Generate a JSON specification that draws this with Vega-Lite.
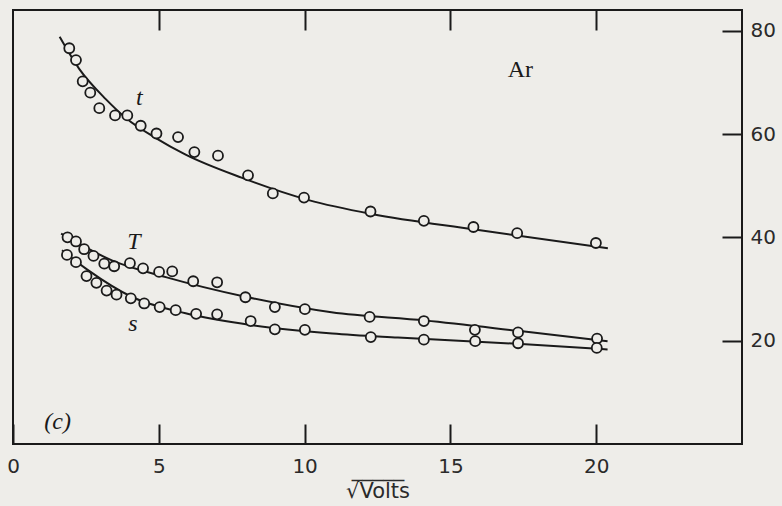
{
  "$schema": "https://vega.github.io/schema/vega-lite/v6.json",
  "width": 729,
  "height": 434,
  "autosize": "none",
  "padding": {"left": 13, "top": 10, "right": 40, "bottom": 62},
  "background": "#eeede9",
  "config": {
    "view": {"stroke": "#1a1a1a", "strokeWidth": 2},
    "axis": {
      "grid": false,
      "domain": false,
      "tickColor": "#1a1a1a",
      "tickWidth": 2,
      "labelFont": "DejaVu Sans",
      "labelFontSize": 20,
      "labelColor": "#2a2a2a",
      "titleFont": "DejaVu Sans",
      "titleFontWeight": "normal",
      "titleFontSize": 21,
      "titleColor": "#2a2a2a"
    }
  },
  "datasets": {
    "points": [
      {"series": "t", "x": 1.93, "y": 76.6},
      {"series": "t", "x": 2.16, "y": 74.3},
      {"series": "t", "x": 2.39, "y": 70.2},
      {"series": "t", "x": 2.65, "y": 68.0},
      {"series": "t", "x": 2.96, "y": 65.0},
      {"series": "t", "x": 3.5, "y": 63.6},
      {"series": "t", "x": 3.92, "y": 63.6},
      {"series": "t", "x": 4.38, "y": 61.6},
      {"series": "t", "x": 4.92, "y": 60.1},
      {"series": "t", "x": 5.66, "y": 59.4},
      {"series": "t", "x": 6.22, "y": 56.5},
      {"series": "t", "x": 7.03, "y": 55.8},
      {"series": "t", "x": 8.06, "y": 52.0},
      {"series": "t", "x": 8.91, "y": 48.5},
      {"series": "t", "x": 9.98, "y": 47.7},
      {"series": "t", "x": 12.26, "y": 45.0},
      {"series": "t", "x": 14.09, "y": 43.2},
      {"series": "t", "x": 15.79, "y": 42.0},
      {"series": "t", "x": 17.29, "y": 40.8},
      {"series": "t", "x": 19.99, "y": 38.9},
      {"series": "T", "x": 1.87, "y": 40.0},
      {"series": "T", "x": 2.16, "y": 39.2},
      {"series": "T", "x": 2.44, "y": 37.7},
      {"series": "T", "x": 2.76, "y": 36.4},
      {"series": "T", "x": 3.13, "y": 34.9},
      {"series": "T", "x": 3.47, "y": 34.4},
      {"series": "T", "x": 4.01, "y": 35.0},
      {"series": "T", "x": 4.46, "y": 34.0},
      {"series": "T", "x": 5.01, "y": 33.3},
      {"series": "T", "x": 5.46, "y": 33.4},
      {"series": "T", "x": 6.18, "y": 31.5},
      {"series": "T", "x": 7.0, "y": 31.3},
      {"series": "T", "x": 7.97, "y": 28.4},
      {"series": "T", "x": 8.98, "y": 26.5},
      {"series": "T", "x": 10.01, "y": 26.1},
      {"series": "T", "x": 12.23, "y": 24.6},
      {"series": "T", "x": 14.09, "y": 23.8},
      {"series": "T", "x": 15.84, "y": 22.1},
      {"series": "T", "x": 17.32, "y": 21.6},
      {"series": "T", "x": 20.03, "y": 20.4},
      {"series": "s", "x": 1.85, "y": 36.6},
      {"series": "s", "x": 2.16, "y": 35.2},
      {"series": "s", "x": 2.52, "y": 32.5},
      {"series": "s", "x": 2.86, "y": 31.2},
      {"series": "s", "x": 3.21, "y": 29.7},
      {"series": "s", "x": 3.55, "y": 28.9},
      {"series": "s", "x": 4.04, "y": 28.2},
      {"series": "s", "x": 4.5, "y": 27.2},
      {"series": "s", "x": 5.03, "y": 26.5},
      {"series": "s", "x": 5.58, "y": 25.9},
      {"series": "s", "x": 6.28, "y": 25.2},
      {"series": "s", "x": 7.0, "y": 25.1},
      {"series": "s", "x": 8.15, "y": 23.8},
      {"series": "s", "x": 8.98, "y": 22.2},
      {"series": "s", "x": 10.01, "y": 22.1},
      {"series": "s", "x": 12.27, "y": 20.7},
      {"series": "s", "x": 14.09, "y": 20.2},
      {"series": "s", "x": 15.85, "y": 19.9},
      {"series": "s", "x": 17.32, "y": 19.5},
      {"series": "s", "x": 20.02, "y": 18.6}
    ],
    "curves": [
      {"series": "t", "x": 1.6, "y": 78.8},
      {"series": "t", "x": 2.27, "y": 72.6},
      {"series": "t", "x": 3.19, "y": 66.7},
      {"series": "t", "x": 3.87, "y": 63.1},
      {"series": "t", "x": 4.9, "y": 59.2},
      {"series": "t", "x": 5.92, "y": 56.0},
      {"series": "t", "x": 7.86, "y": 51.5},
      {"series": "t", "x": 10.14, "y": 47.2},
      {"series": "t", "x": 12.3, "y": 44.5},
      {"series": "t", "x": 15.84, "y": 41.5},
      {"series": "t", "x": 20.4, "y": 37.9},
      {"series": "T", "x": 1.65, "y": 40.7},
      {"series": "T", "x": 3.41, "y": 35.5},
      {"series": "T", "x": 5.24, "y": 32.3},
      {"series": "T", "x": 7.97, "y": 28.5},
      {"series": "T", "x": 10.92, "y": 25.5},
      {"series": "T", "x": 14.13, "y": 23.9},
      {"series": "T", "x": 17.32, "y": 21.9},
      {"series": "T", "x": 20.39, "y": 19.9},
      {"series": "s", "x": 1.68, "y": 37.5},
      {"series": "s", "x": 2.56, "y": 33.7},
      {"series": "s", "x": 4.1, "y": 28.4},
      {"series": "s", "x": 5.92, "y": 25.3},
      {"series": "s", "x": 8.2, "y": 23.0},
      {"series": "s", "x": 10.95, "y": 21.4},
      {"series": "s", "x": 13.2, "y": 20.6},
      {"series": "s", "x": 17.3, "y": 19.4},
      {"series": "s", "x": 20.39, "y": 18.3}
    ],
    "italicLabels": [
      {"x": 4.33, "y": 66.9, "label": "t"},
      {"x": 4.15, "y": 39.1, "label": "T"},
      {"x": 4.11, "y": 23.3, "label": "s"},
      {"x": 1.53, "y": 4.2, "label": "(c)"}
    ],
    "plainLabels": [
      {"x": 17.4, "y": 72.4, "label": "Ar"}
    ]
  },
  "layer": [
    {
      "data": {"name": "curves"},
      "mark": {"type": "line", "interpolate": "monotone", "color": "#1a1a1a", "strokeWidth": 2},
      "encoding": {
        "x": {
          "field": "x", "type": "quantitative",
          "scale": {"domain": [0, 25], "nice": false, "zero": false},
          "axis": {"orient": "bottom", "values": [0, 5, 10, 15, 20], "tickSize": -20, "labelPadding": 32, "title": ["\u00a0\u00a0_____", "√Volts"], "titleLineHeight": 22, "titlePadding": -18, "labelFlush": false}
        },
        "y": {
          "field": "y", "type": "quantitative",
          "scale": {"domain": [0, 84], "nice": false, "zero": false},
          "axis": {"orient": "right", "values": [20, 40, 60, 80], "tickSize": -20, "labelPadding": 28, "title": null}
        },
        "detail": {"field": "series"}
      }
    },
    {
      "data": {"name": "points"},
      "mark": {"type": "point", "shape": "circle", "filled": true, "fill": "#eeede9", "stroke": "#1a1a1a", "strokeWidth": 1.8, "size": 100, "opacity": 1},
      "encoding": {
        "x": {"field": "x", "type": "quantitative", "axis": {"orient": "top", "values": [5, 10, 15, 20], "tickSize": -20, "labels": false, "title": null}},
        "y": {"field": "y", "type": "quantitative"}
      }
    },
    {
      "data": {"name": "italicLabels"},
      "mark": {"type": "text", "font": "Liberation Serif", "fontStyle": "italic", "fontSize": 24, "color": "#1a1a1a", "align": "center", "baseline": "middle"},
      "encoding": {
        "x": {"field": "x", "type": "quantitative", "axis": null},
        "y": {"field": "y", "type": "quantitative"},
        "text": {"field": "label"}
      }
    },
    {
      "data": {"name": "plainLabels"},
      "mark": {"type": "text", "font": "Liberation Serif", "fontSize": 24, "color": "#1a1a1a", "align": "center", "baseline": "middle"},
      "encoding": {
        "x": {"field": "x", "type": "quantitative", "axis": null},
        "y": {"field": "y", "type": "quantitative"},
        "text": {"field": "label"}
      }
    }
  ]
}
